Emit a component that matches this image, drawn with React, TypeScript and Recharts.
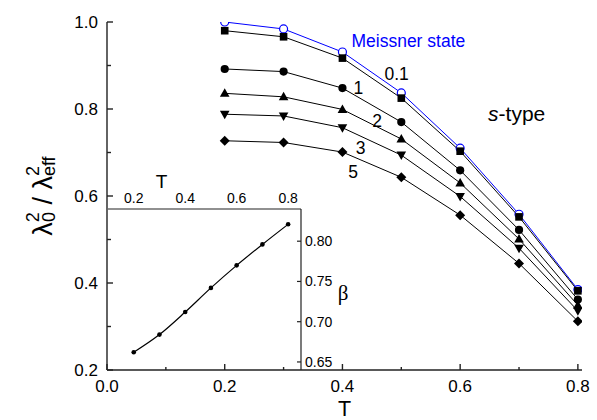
import React from 'react';
import { LineChart, Line, XAxis, YAxis, ReferenceDot } from 'recharts';

// ---- main panel data ----
const temps = [0.2, 0.3, 0.4, 0.5, 0.6, 0.7, 0.8];
const meissner = [1.0, 0.984, 0.931, 0.837, 0.71, 0.558, 0.385];
const field01 = [0.98, 0.966, 0.917, 0.825, 0.703, 0.552, 0.382];
const field1 = [0.892, 0.886, 0.848, 0.77, 0.659, 0.522, 0.362];
const field2 = [0.836, 0.828, 0.799, 0.731, 0.63, 0.501, 0.349];
const field3 = [0.788, 0.784, 0.757, 0.694, 0.599, 0.48, 0.336];
const field5 = [0.727, 0.723, 0.701, 0.643, 0.556, 0.445, 0.312];

const xTicks = [0, 0.1, 0.2, 0.3, 0.4, 0.5, 0.6, 0.7, 0.8];
const yTicks = [0.2, 0.3, 0.4, 0.5, 0.6, 0.7, 0.8, 0.9, 1.0];

// ---- inset data ----
const insetTemps = [0.2, 0.3, 0.4, 0.5, 0.6, 0.7, 0.8];
const beta = [0.662, 0.684, 0.712, 0.742, 0.77, 0.796, 0.821];
const insetXTicks = [0.2, 0.4, 0.6, 0.8];
const insetYTicks = [0.65, 0.7, 0.75, 0.8];

// ---- annotations (data coordinates) ----
const annotations = [
  { text: 'Meissner state', T: 0.512, v: 0.956, color: '#0000ff' },
  { text: '0.1', T: 0.492, v: 0.88, color: '#000' },
  { text: '1', T: 0.427, v: 0.849, color: '#000' },
  { text: '2', T: 0.459, v: 0.774, color: '#000' },
  { text: '3', T: 0.431, v: 0.71, color: '#000' },
  { text: '5', T: 0.418, v: 0.655, color: '#000' },
];
const sType = { T: 0.696, v: 0.789 };

const mainData = temps.map((t, i) => ({
  T: t,
  meissner: meissner[i],
  f01: field01[i],
  f1: field1[i],
  f2: field2[i],
  f3: field3[i],
  f5: field5[i],
}));
const insetData = insetTemps.map((t, i) => ({ T: t, beta: beta[i] }));

const FONT = '"Liberation Sans", Arial, Helvetica, sans-serif';
const AXIS = '#222';
const AW = 1.4;

const isMajor = (v: number) => Math.round(v * 10) % 2 === 0;

function BottomTick(props: any) {
  const { x, y, payload } = props;
  const v = payload.value;
  const major = isMajor(v);
  return (
    <g>
      <line x1={x} y1={y} x2={x} y2={y - (major ? 6 : 3)} stroke={AXIS} strokeWidth={AW} />
      {major && (
        <text x={x} y={y + 22} textAnchor="middle" fontSize={17} fontFamily={FONT} fill="#000">
          {v.toFixed(1)}
        </text>
      )}
    </g>
  );
}
function TopTick(props: any) {
  const { x, y, payload } = props;
  const major = isMajor(payload.value);
  return <line x1={x} y1={y} x2={x} y2={y + (major ? 6 : 4)} stroke={AXIS} strokeWidth={AW} />;
}
function LeftTick(props: any) {
  const { x, y, payload } = props;
  const v = payload.value;
  const major = isMajor(v);
  return (
    <g>
      <line x1={x} y1={y} x2={x + (major ? 6 : 4)} y2={y} stroke={AXIS} strokeWidth={AW} />
      {major && (
        <text x={x - 9} y={y + 6} textAnchor="end" fontSize={17} fontFamily={FONT} fill="#000">
          {v.toFixed(1)}
        </text>
      )}
    </g>
  );
}
function RightTick(props: any) {
  const { x, y, payload } = props;
  const major = isMajor(payload.value);
  return <line x1={x} y1={y} x2={x - (major ? 6 : 5)} y2={y} stroke={AXIS} strokeWidth={AW} />;
}
function InsetTopTick(props: any) {
  const { x, y, payload } = props;
  return (
    <text x={x} y={y - 6} textAnchor="middle" fontSize={14} fontFamily={FONT} fill="#000">
      {payload.value.toFixed(1)}
    </text>
  );
}
function InsetRightTick(props: any) {
  const { x, y, payload } = props;
  return (
    <g>
      <line x1={x} y1={y} x2={x - 4} y2={y} stroke={AXIS} strokeWidth={1.2} />
      <text x={x + 4} y={y + 5} textAnchor="start" fontSize={14} fontFamily={FONT} fill="#000">
        {payload.value.toFixed(2)}
      </text>
    </g>
  );
}

function YLabel(props: any) {
  const vb = props.viewBox;
  const cx = 52;
  const cy = vb.y + vb.height / 2;
  return (
    <text
      x={cx}
      y={cy}
      transform={`rotate(-90 ${cx} ${cy})`}
      textAnchor="middle"
      fontFamily={FONT}
      fill="#000"
      fontSize={27}
    >
      <tspan>λ</tspan>
      <tspan fontSize={18} dy={-13}>2</tspan>
      <tspan fontSize={18} dx={-10} dy={16}>0</tspan>
      <tspan fontSize={27} dy={-3}> / λ</tspan>
      <tspan fontSize={18} dy={-13}>2</tspan>
      <tspan fontSize={18} dx={-10} dy={16}>eff</tspan>
    </text>
  );
}
function XLabel(props: any) {
  const vb = props.viewBox;
  return (
    <text x={vb.x + vb.width / 2} y={vb.y + vb.height - 4.5} textAnchor="middle" fontSize={21.5} fontFamily={FONT} fill="#000">
      T
    </text>
  );
}
function InsetTLabel(props: any) {
  const vb = props.viewBox;
  return (
    <text x={vb.x + 53.5} y={vb.y + 9} textAnchor="middle" fontSize={19} fontFamily={FONT} fill="#000">
      T
    </text>
  );
}
function BetaLabel(props: any) {
  const vb = props.viewBox;
  return (
    <text x={vb.x + 42} y={vb.y + 91} textAnchor="middle" fontSize={21} fontFamily='"Liberation Serif", "Times New Roman", serif' fill="#000">
      β
    </text>
  );
}

function marker(shape: string) {
  return (p: any) => {
    const { cx, cy, index } = p;
    const k = `${shape}-${index}`;
    if (shape === 'square') return <rect key={k} x={cx - 3.8} y={cy - 3.8} width={7.6} height={7.6} fill="#000" />;
    if (shape === 'circle') return <circle key={k} cx={cx} cy={cy} r={4.1} fill="#000" />;
    if (shape === 'up')
      return <polygon key={k} points={`${cx},${cy - 5} ${cx + 4.8},${cy + 3.5} ${cx - 4.8},${cy + 3.5}`} fill="#000" />;
    if (shape === 'down')
      return <polygon key={k} points={`${cx},${cy + 5} ${cx + 4.8},${cy - 3.5} ${cx - 4.8},${cy - 3.5}`} fill="#000" />;
    return <polygon key={k} points={`${cx},${cy - 5} ${cx + 5},${cy} ${cx},${cy + 5} ${cx - 5},${cy}`} fill="#000" />;
  };
}
const openCircle = (p: any) => (
  <circle key={`o-${p.index}`} cx={p.cx} cy={p.cy} r={4} fill="#fff" stroke="#0000ff" strokeWidth={1.2} />
);
const insetDot = (p: any) => <circle key={`b-${p.index}`} cx={p.cx} cy={p.cy} r={2.3} fill="#000" />;

const blackSeries = [
  { key: 'f01', shape: 'square' },
  { key: 'f1', shape: 'circle' },
  { key: 'f2', shape: 'up' },
  { key: 'f3', shape: 'down' },
  { key: 'f5', shape: 'diamond' },
];

export default function App() {
  return (
    <div style={{ position: 'absolute', left: 0, top: 0, width: 597, height: 420, background: '#fff', fontFamily: FONT }}>
      <div style={{ position: 'absolute', left: 0, top: 0 }}>
        <LineChart width={597} height={420} data={mainData} margin={{ top: 22, right: 15, bottom: 0, left: 0 }}>
          <XAxis
            xAxisId="main"
            dataKey="T"
            type="number"
            domain={[0, 0.807]}
            allowDataOverflow
            ticks={xTicks}
            interval={0}
            height={50}
            tickLine={false}
            tickSize={0}
            tickMargin={0}
            tick={<BottomTick />}
            axisLine={{ stroke: AXIS, strokeWidth: AW }}
            label={{ content: XLabel }}
          />
          <XAxis
            xAxisId="top"
            orientation="top"
            dataKey="T"
            type="number"
            domain={[0, 0.807]}
            allowDataOverflow
            ticks={xTicks}
            interval={0}
            height={0}
            tickLine={false}
            tickSize={0}
            tickMargin={0}
            tick={<TopTick />}
            axisLine={{ stroke: AXIS, strokeWidth: AW }}
          />
          <YAxis
            yAxisId="main"
            type="number"
            domain={[0.2, 1.0]}
            allowDataOverflow
            ticks={yTicks}
            interval={0}
            width={107}
            tickLine={false}
            tickSize={0}
            tickMargin={0}
            tick={<LeftTick />}
            axisLine={{ stroke: AXIS, strokeWidth: AW }}
            label={{ content: YLabel }}
          />
          <YAxis
            yAxisId="right"
            orientation="right"
            type="number"
            domain={[0.2, 1.0]}
            allowDataOverflow
            ticks={yTicks}
            interval={0}
            width={0}
            tickLine={false}
            tickSize={0}
            tickMargin={0}
            tick={<RightTick />}
            axisLine={{ stroke: AXIS, strokeWidth: AW }}
          />
          <Line
            xAxisId="main"
            yAxisId="main"
            dataKey="meissner"
            stroke="#0000ff"
            strokeWidth={1}
            dot={openCircle}
            activeDot={false}
            isAnimationActive={false}
          />
          {blackSeries.map((s) => (
            <Line
              key={s.key}
              xAxisId="main"
              yAxisId="main"
              dataKey={s.key}
              stroke="#000"
              strokeWidth={1}
              dot={marker(s.shape)}
              activeDot={false}
              isAnimationActive={false}
            />
          ))}
          {annotations.map((a) => (
            <ReferenceDot
              key={a.text}
              xAxisId="main"
              yAxisId="main"
              x={a.T}
              y={a.v}
              r={1}
              fill="none"
              stroke="none"
              label={{
                content: (p: any) => {
                  const vb = p.viewBox;
                  return (
                    <text
                      x={vb.x + vb.width / 2}
                      y={vb.y + vb.height / 2}
                      dy="0.355em"
                      textAnchor="middle"
                      fontSize={17.5}
                      fontFamily={FONT}
                      fill={a.color}
                    >
                      {a.text}
                    </text>
                  );
                },
              }}
            />
          ))}
          <ReferenceDot
            xAxisId="main"
            yAxisId="main"
            x={sType.T}
            y={sType.v}
            r={1}
            fill="none"
            stroke="none"
            label={{
              content: (p: any) => {
                const vb = p.viewBox;
                return (
                  <text
                    x={vb.x + vb.width / 2}
                    y={vb.y + vb.height / 2}
                    dy="0.35em"
                    textAnchor="middle"
                    fontSize={21}
                    fontFamily={FONT}
                    fill="#000"
                  >
                    <tspan fontStyle="italic">s</tspan>
                    <tspan>-type</tspan>
                  </text>
                );
              },
            }}
          />
        </LineChart>
      </div>
      <div style={{ position: 'absolute', left: 60, top: 170 }}>
        <LineChart width={301} height={200} data={insetData} margin={{ top: 9, right: 0, bottom: 0, left: 48 }}>
          <XAxis
            dataKey="T"
            type="number"
            orientation="top"
            domain={[0.1, 0.85]}
            allowDataOverflow
            ticks={insetXTicks}
            interval={0}
            height={30}
            tickLine={false}
            tickSize={0}
            tickMargin={0}
            tick={<InsetTopTick />}
            axisLine={{ stroke: AXIS, strokeWidth: 1.2 }}
            label={{ content: InsetTLabel }}
          />
          <YAxis
            orientation="right"
            type="number"
            domain={[0.64, 0.84]}
            allowDataOverflow
            ticks={insetYTicks}
            interval={0}
            width={60}
            tickLine={false}
            tickSize={0}
            tickMargin={0}
            tick={<InsetRightTick />}
            axisLine={{ stroke: AXIS, strokeWidth: 1.2 }}
            label={{ content: BetaLabel }}
          />
          <Line
            type="monotone"
            dataKey="beta"
            stroke="#000"
            strokeWidth={1.2}
            dot={insetDot}
            activeDot={false}
            isAnimationActive={false}
          />
        </LineChart>
      </div>
    </div>
  );
}
